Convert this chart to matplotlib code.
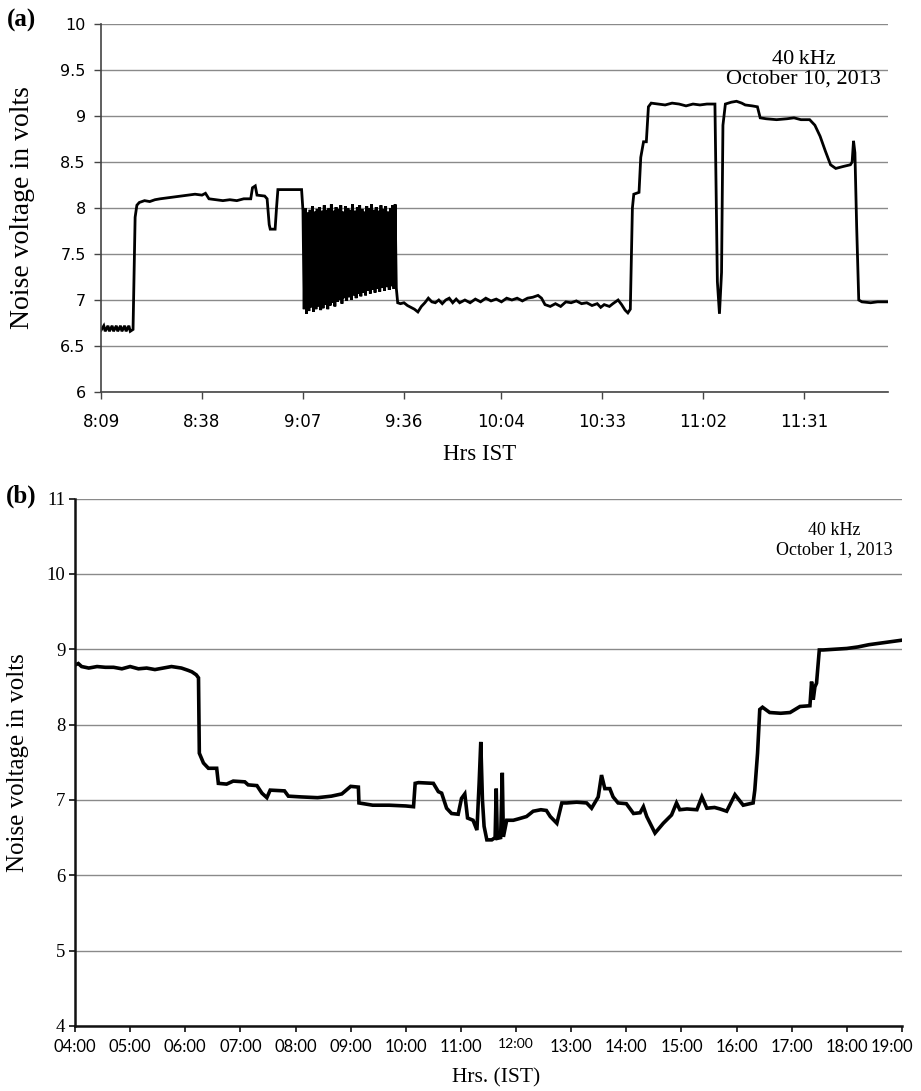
import numpy as np
import matplotlib
matplotlib.use("Agg")
import matplotlib.pyplot as plt

# ---------------- Panel (a): October 10, 2013 (minutes after 8:09) -------------
a_minutes_pre = [0, 0.8, 1.2, 2.0, 2.4, 3.2, 3.6, 4.4, 4.8, 5.6, 6.0, 6.8, 7.2, 8.0, 8.4,
                 9.2, 9.8, 10.3, 11, 12.5, 14, 15.5, 17, 19, 21, 23, 25, 27, 29, 30,
                 31, 33, 35, 37, 39, 41, 43, 43.5, 44.3, 44.8, 47, 47.7, 48.3, 48.6,
                 50.0, 50.4, 50.8, 57.6]
a_volts_pre = [6.67, 6.72, 6.66, 6.72, 6.66, 6.72, 6.66, 6.72, 6.66, 6.72, 6.66, 6.72, 6.66, 6.72, 6.66,
               6.68, 7.9, 8.03, 8.06, 8.08, 8.07, 8.09, 8.10, 8.11, 8.12, 8.13, 8.14, 8.15, 8.14, 8.16,
               8.10, 8.09, 8.08, 8.09, 8.08, 8.10, 8.10, 8.22, 8.24, 8.14, 8.13, 8.10, 7.82, 7.77,
               7.77, 8.0, 8.20, 8.20]

# oscillating section (9:07 - 9:34): alternating peaks and troughs
a_osc_start, a_osc_end = 58.0, 84.8
a_osc_high = [7.97, 8.00, 7.95, 7.98, 8.02, 7.96, 7.99, 8.01, 7.97, 8.03, 7.98, 8.00, 8.04, 7.97,
              8.01, 7.99, 8.03, 7.96, 8.02, 8.00, 7.98, 8.04, 7.97, 8.01, 8.03, 7.99, 7.96, 8.02,
              8.00, 8.04, 7.98, 8.01, 7.97, 8.03, 7.99, 8.02, 7.96, 8.00, 8.03, 8.04]
a_osc_low = [6.90, 6.85, 6.88, 6.92, 6.87, 6.90, 6.93, 6.89, 6.91, 6.95, 6.90, 6.94, 6.97, 6.93,
             6.98, 7.00, 6.96, 7.02, 6.99, 7.03, 7.00, 7.05, 7.02, 7.07, 7.04, 7.08, 7.05, 7.10,
             7.07, 7.11, 7.08, 7.12, 7.09, 7.13, 7.10, 7.14, 7.11, 7.15, 7.12, 7.13]

a_minutes_post = [85.2, 86, 87, 88, 89, 90, 91, 92, 93, 94, 95, 96, 97, 98, 99, 100, 101, 102, 103,
                  104.5, 106, 107.5, 109, 110.5, 112, 113.5, 115, 116.5, 118, 119.5, 121, 122.5,
                  124, 125.5, 126.5, 127.5, 129, 130.5, 132, 133.5, 135, 136.5, 138, 139.5, 141,
                  142.5, 143.5, 144.5, 146, 147, 148.5, 149.5, 150.5, 151.3, 152.0, 152.6, 153.0,
                  154.5, 155.0, 155.8, 156.6, 157.2, 158, 160, 162, 164, 166, 168, 170, 172, 174,
                  176.3, 177.0, 177.6, 178.2, 178.6, 179.3, 181, 182.5, 184, 185, 187, 188.5, 189.3,
                  191, 194, 197, 199, 201, 203.5, 205, 206.5, 208, 209.5, 211, 213, 215.2, 215.7,
                  216.1, 216.5, 217.0, 217.6, 218.5, 221, 223, 226]
a_volts_post = [6.97, 6.96, 6.97, 6.94, 6.92, 6.90, 6.87, 6.93, 6.97, 7.02, 6.98, 6.97, 7.00, 6.96,
                7.00, 7.02, 6.97, 7.01, 6.97,
                7.00, 6.97, 7.01, 6.98, 7.02, 6.99, 7.01, 6.98, 7.02, 7.00, 7.02, 6.99, 7.02,
                7.03, 7.05, 7.02, 6.95, 6.93, 6.96, 6.93, 6.98, 6.97, 6.99, 6.96, 6.97, 6.94,
                6.96, 6.92, 6.95, 6.93, 6.96, 7.00, 6.95, 6.89, 6.86, 6.90, 8.00, 8.15,
                8.17, 8.55, 8.72, 8.72, 9.10, 9.14, 9.13, 9.12, 9.14, 9.13, 9.11, 9.13, 9.12, 9.13,
                9.13, 7.20, 6.85, 7.30, 8.90, 9.13, 9.15, 9.16, 9.14, 9.12, 9.11, 9.10, 8.98,
                8.97, 8.96, 8.97, 8.98, 8.96, 8.96, 8.90, 8.78, 8.62, 8.47, 8.43, 8.45, 8.47, 8.50,
                8.73, 8.60, 7.80, 7.00, 6.98, 6.97, 6.98, 6.98]

a_tick_minutes = [0, 29, 58, 87, 115, 144, 173, 202]
a_tick_labels = ["8:09", "8:38", "9:07", "9:36", "10:04", "10:33", "11:02", "11:31"]
a_yticks = [6, 6.5, 7, 7.5, 8, 8.5, 9, 9.5, 10]
a_ytick_labels = ["6", "6.5", "7", "7.5", "8", "8.5", "9", "9.5", "10"]

# ---------------- Panel (b): October 1, 2013 (hours IST) -----------------------
b_hours = [4.00, 4.06, 4.12, 4.25, 4.40, 4.55, 4.70, 4.85, 5.00, 5.15, 5.30, 5.45, 5.60, 5.75,
           5.93, 6.05, 6.12, 6.20, 6.24, 6.255, 6.33, 6.42, 6.57, 6.60, 6.75, 6.87, 7.08, 7.14,
           7.30, 7.39, 7.48, 7.54, 7.80, 7.87, 8.10, 8.40, 8.65, 8.84, 9.00, 9.14, 9.15, 9.40,
           9.70, 10.00, 10.14, 10.17, 10.23, 10.50, 10.59, 10.65, 10.74, 10.83, 10.95, 11.01,
           11.07, 11.12, 11.22, 11.29, 11.33, 11.36, 11.39, 11.42, 11.47, 11.56, 11.62, 11.64,
           11.66, 11.72, 11.75, 11.77, 11.83, 11.95, 12.05, 12.19, 12.31, 12.45, 12.55, 12.62,
           12.74, 12.83, 12.92, 13.10, 13.28, 13.37, 13.49, 13.55, 13.61, 13.70, 13.76, 13.85,
           14.00, 14.13, 14.25, 14.31, 14.37, 14.52, 14.67, 14.82, 14.91, 14.97, 15.10, 15.28,
           15.37, 15.46, 15.60, 15.70, 15.82, 15.97, 16.12, 16.30, 16.33, 16.38, 16.42, 16.47,
           16.60, 16.80, 16.97, 17.15, 17.33, 17.36, 17.39, 17.42, 17.45, 17.50, 17.57, 17.80,
           18.00, 18.20, 18.40, 18.60, 18.80, 19.00]
b_volts = [8.79, 8.81, 8.77, 8.75, 8.77, 8.76, 8.76, 8.74, 8.77, 8.74, 8.75, 8.73, 8.75, 8.77,
           8.75, 8.72, 8.70, 8.66, 8.62, 7.62, 7.49, 7.42, 7.42, 7.22, 7.21, 7.25, 7.24, 7.20,
           7.19, 7.09, 7.03, 7.13, 7.12, 7.05, 7.04, 7.03, 7.05, 7.08, 7.18, 7.17, 6.96, 6.93,
           6.93, 6.92, 6.91, 7.22, 7.23, 7.22, 7.11, 7.09, 6.89, 6.82, 6.81, 7.02,
           7.08, 6.76, 6.73, 6.60, 7.22, 7.77, 7.00, 6.65, 6.47, 6.47, 6.50, 7.15,
           6.49, 6.50, 7.36, 6.51, 6.73, 6.73, 6.75, 6.78, 6.85, 6.87, 6.86, 6.78,
           6.69, 6.96, 6.96, 6.97, 6.96, 6.89, 7.04, 7.33, 7.15, 7.15, 7.04, 6.96,
           6.95, 6.82, 6.83, 6.91, 6.78, 6.56, 6.69, 6.80, 6.96, 6.87, 6.88, 6.87,
           7.04, 6.89, 6.90, 6.88, 6.85, 7.07, 6.93, 6.96, 7.13, 7.62, 8.20, 8.23,
           8.16, 8.15, 8.16, 8.24, 8.25, 8.57, 8.33, 8.50, 8.55, 8.99, 8.99, 9.00,
           9.01, 9.03, 9.06, 9.08, 9.10, 9.12]

b_tick_hours = list(range(4, 20))
b_tick_labels = ["%02d:00" % h for h in b_tick_hours]
b_yticks = [4, 5, 6, 7, 8, 9, 10, 11]

# ---------------- assemble panel (a) series ----------------------------------
n_osc = len(a_osc_high) + len(a_osc_low)
osc_t = np.linspace(a_osc_start, a_osc_end, n_osc)
osc_v = np.empty(n_osc)
osc_v[0::2] = a_osc_high
osc_v[1::2] = a_osc_low
a_t = np.concatenate([a_minutes_pre, osc_t, a_minutes_post])
a_v = np.concatenate([a_volts_pre, osc_v, a_volts_post])

SERIF = "Liberation Serif"
W, H = 921, 1091
fig = plt.figure(figsize=(W / 100, H / 100), dpi=100)

grid_c = "#8a8a8a"

# Panel (a)
axa = fig.add_axes([101 / W, 1 - 392 / H, 787 / W, 368 / H])
axa.plot(a_t, a_v, color="black", lw=2.0, solid_joinstyle="miter")
axa.set_xlim(0, 226)
axa.set_ylim(6, 10)
axa.set_yticks(a_yticks)
axa.set_yticklabels(a_ytick_labels, fontfamily="DejaVu Sans", fontsize=11.5)
axa.set_xticks(a_tick_minutes)
axa.set_xticklabels(a_tick_labels, fontfamily="DejaVu Sans", fontsize=12)
axa.yaxis.grid(True, color=grid_c, lw=1.0)
axa.set_axisbelow(True)
for s in ["top", "right"]:
    axa.spines[s].set_visible(False)
for s in ["left", "bottom"]:
    axa.spines[s].set_color("#444444")
    axa.spines[s].set_linewidth(1.2)
axa.tick_params(axis="both", direction="out", length=5, color="#444444", width=1.0)
axa.tick_params(axis="x", pad=10)
axa.tick_params(axis="y", pad=6)
axa.set_ylabel("Noise voltage in volts", fontfamily=SERIF, fontsize=20)
axa.yaxis.set_label_coords((35 - 101) / 787, 0.5)
axa.text(0.893, 0.93, "40\u2009kHz\nOctober 10, 2013", transform=axa.transAxes,
         ha="center", va="top", fontfamily=SERIF, fontsize=16, linespacing=1.05)
fig.text(480 / W, 1 - 455 / H, "Hrs IST", ha="center", va="center",
         fontfamily=SERIF, fontsize=16.5)
fig.text(7 / W, 1 - 20 / H, "(a)", ha="left", va="center", fontfamily=SERIF,
         fontsize=18, fontweight="bold")

# Panel (b)
b_top, b_bot = 498.5, 1026
axb = fig.add_axes([75 / W, 1 - b_bot / H, 827 / W, (b_bot - b_top) / H])
axb.plot(b_hours, b_volts, color="black", lw=2.6, solid_joinstyle="miter")
axb.set_xlim(4, 19)
axb.set_ylim(4, 11)
axb.set_yticks(b_yticks)
axb.set_yticklabels([str(v) for v in b_yticks], fontfamily=SERIF, fontsize=13.5)
axb.set_xticks(b_tick_hours)
# the last label (19:00) is drawn separately, shifted left to stay inside the figure
axb.set_xticklabels(b_tick_labels[:-1] + [""], fontfamily="Lato", fontsize=12)
for lab in axb.get_xticklabels():
    if lab.get_text() == "12:00":
        lab.set_fontsize(10)
axb.annotate(b_tick_labels[-1], xy=(b_tick_hours[-1], 0), xycoords=("data", "axes fraction"),
             xytext=(-10, -21), textcoords="offset pixels", ha="center", va="center",
             fontfamily="Lato", fontsize=12)
axb.yaxis.grid(True, color=grid_c, lw=1.0)
axb.set_axisbelow(True)
for s in ["top", "right"]:
    axb.spines[s].set_visible(False)
for s in ["left", "bottom"]:
    axb.spines[s].set_color("#111111")
    axb.spines[s].set_linewidth(1.8)
axb.tick_params(axis="both", direction="out", length=4, color="#111111", width=1.2)
axb.tick_params(axis="x", pad=5)
axb.tick_params(axis="y", pad=3)
axb.set_ylabel("Noise voltage in volts", fontfamily=SERIF, fontsize=18)
axb.yaxis.set_label_coords((29 - 75) / 827, 0.5)
axb.text(0.918, 0.922, "40 kHz\nOctober 1, 2013", transform=axb.transAxes,
         ha="center", va="center", fontfamily=SERIF, fontsize=13, linespacing=1.15)
fig.text(496 / W, 1 - 1078 / H, "Hrs. (IST)", ha="center", va="center",
         fontfamily=SERIF, fontsize=15.5)
fig.text(6 / W, 1 - 496 / H, "(b)", ha="left", va="center", fontfamily=SERIF,
         fontsize=18, fontweight="bold")

fig.savefig("out.png", dpi=100, facecolor="white")
